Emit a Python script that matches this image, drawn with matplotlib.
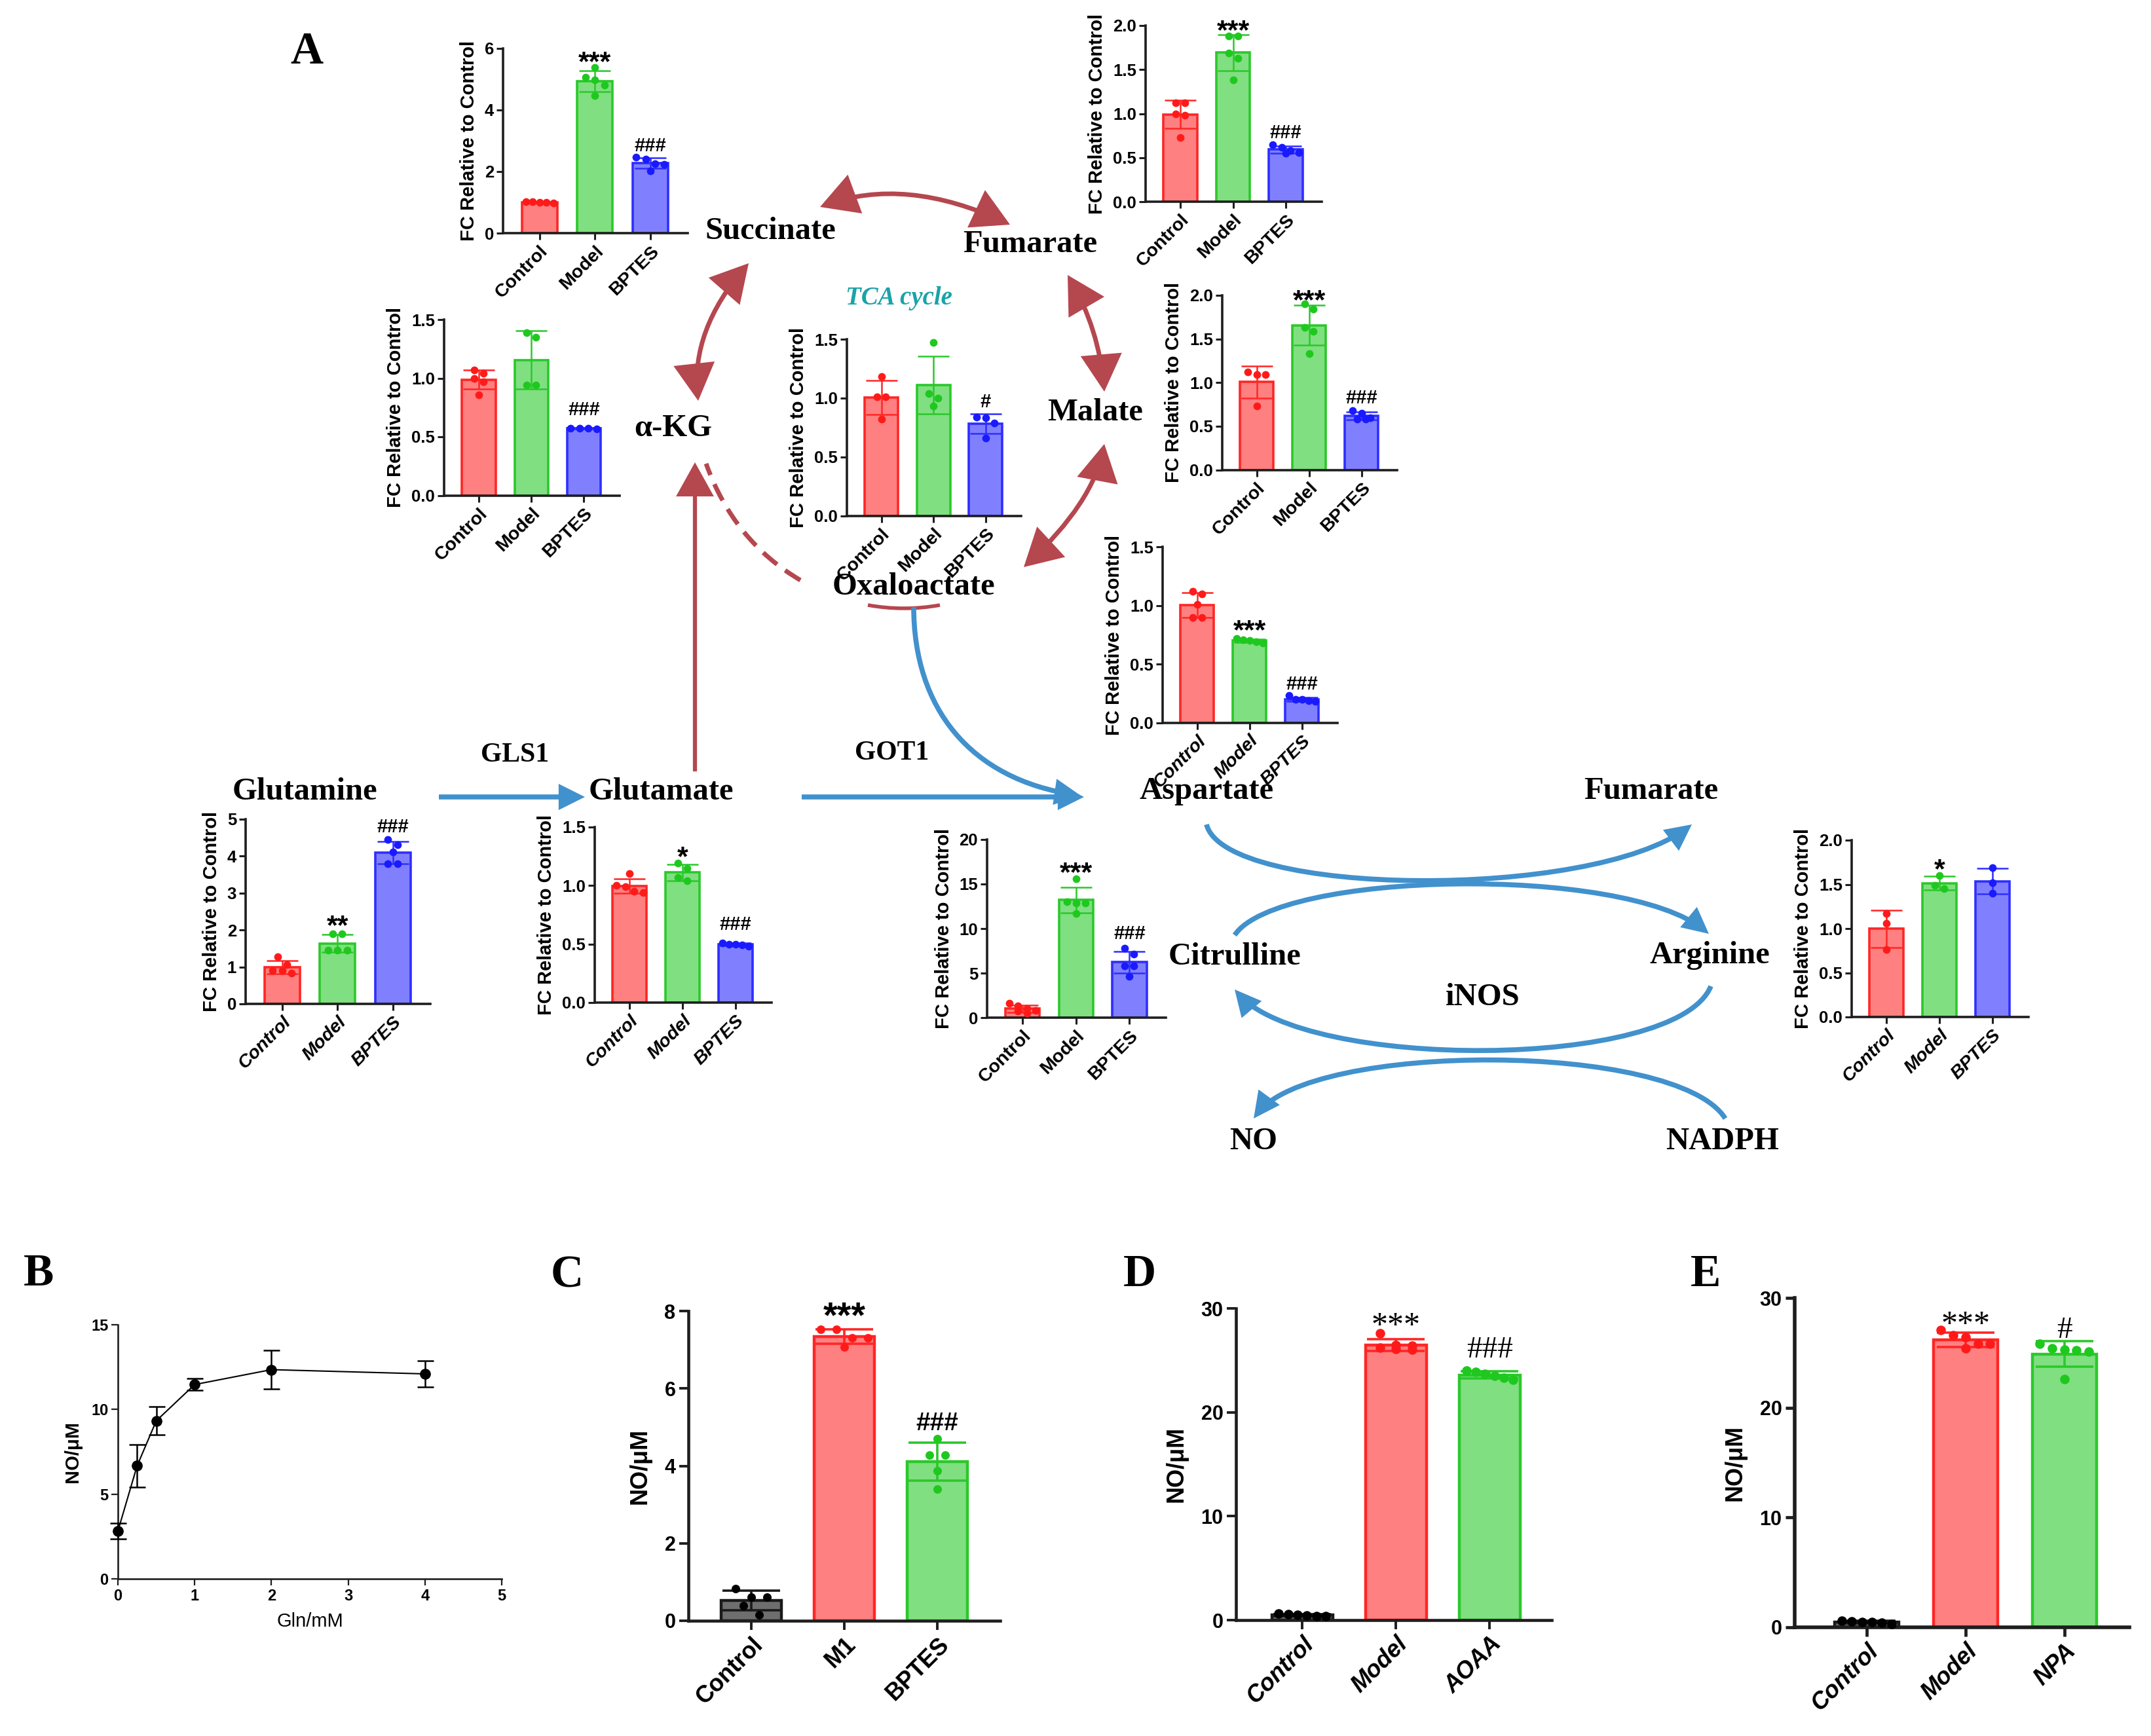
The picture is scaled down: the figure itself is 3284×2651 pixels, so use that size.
import numpy as np
import matplotlib
matplotlib.use("Agg")
import matplotlib.pyplot as plt
from matplotlib.patches import FancyArrowPatch
from matplotlib.path import Path
from matplotlib.ticker import FuncFormatter

W, H = 3284, 2651
SANS = ["Liberation Sans", "DejaVu Sans"]
NARROW = ["Liberation Sans Narrow", "Liberation Sans", "DejaVu Sans"]
SERIF = ["Liberation Serif", "DejaVu Serif"]
plt.rcParams["font.family"] = SANS

# ---- panel A insets: fold change relative to control (points per group) ----
GROUPS = ["Control", "Model", "BPTES"]
succinate = [[1.02, 1.0, 0.98, 1.01, 0.99],
             [5.06, 5.37, 4.96, 4.80, 4.45],
             [2.41, 2.46, 2.26, 2.01, 2.23]]
akg = [[1.07, 1.04, 1.0, 0.97, 0.86],
       [1.39, 1.35, 0.94, 0.94],
       [0.575, 0.57, 0.565, 0.57]]
fumarate = [[1.12, 1.12, 1.0, 0.98, 0.73],
            [1.88, 1.88, 1.69, 1.63, 1.38],
            [0.65, 0.62, 0.58, 0.56, 0.55]]
oxaloacetate = [[1.18, 1.01, 1.01, 0.82],
                [1.47, 1.04, 1.0, 0.93],
                [0.84, 0.83, 0.79, 0.66]]
malate = [[1.09, 1.12, 1.09, 0.73],
          [1.90, 1.84, 1.63, 1.59, 1.33],
          [0.68, 0.65, 0.60, 0.58, 0.58]]
aspartate = [[1.12, 1.10, 1.01, 0.90, 0.90],
             [0.72, 0.71, 0.70, 0.68, 0.69],
             [0.23, 0.20, 0.20, 0.19, 0.18]]
glutamine = [[1.07, 1.27, 0.91, 0.91, 0.83],
             [1.90, 1.90, 1.46, 1.46, 1.46],
             [4.45, 4.31, 4.11, 3.80, 3.80]]
glutamate = [[1.10, 1.0, 0.99, 0.95, 0.94],
             [1.19, 1.15, 1.07, 1.04],
             [0.51, 0.50, 0.49, 0.48, 0.50]]
citrulline = [[1.6, 1.35, 1.0, 0.8, 0.7, 0.55],
              [15.6, 13.0, 12.85, 12.85, 11.7],
              [7.77, 7.11, 5.8, 5.8, 4.66]]
arginine = [[1.17, 1.06, 0.76],
            [1.60, 1.45, 1.49],
            [1.69, 1.52, 1.40]]

# significance marks: (group index, text, y of glyph centre)
succinate_marks = [(1, "***", 5.8), (2, "###", 2.87)]
akg_marks = [(2, "###", 0.74)]
fumarate_marks = [(1, "***", 2.03), (2, "###", 0.80)]
oxaloacetate_marks = [(2, "#", 0.98)]
malate_marks = [(1, "***", 2.03), (2, "###", 0.84)]
aspartate_marks = [(1, "***", 0.85), (2, "###", 0.34)]
glutamine_marks = [(1, "**", 2.31), (2, "###", 4.83)]
glutamate_marks = [(1, "*", 1.31), (2, "###", 0.68)]
citrulline_marks = [(1, "***", 17.1), (2, "###", 9.57)]
arginine_marks = [(1, "*", 1.75)]

# ---- panel B ----
gln_mM = [0, 0.25, 0.5, 1, 2, 4]
no_mean = [2.82, 6.67, 9.33, 11.47, 12.35, 12.10]
no_sd = [0.45, 1.26, 0.83, 0.35, 1.15, 0.79]

# ---- panels C-E: NO (uM) ----
c_groups = ["Control", "M1", "BPTES"]
c_vals = [[0.61, 0.61, 0.83, 0.39, 0.16],
          [7.52, 7.52, 7.30, 7.30, 7.07],
          [4.70, 4.28, 4.28, 3.87, 3.40]]
c_marks = [(1, "***", 8.1), (2, "###", 5.15)]

d_groups = ["Control", "Model", "AOAA"]
d_vals = [[0.55, 0.35, 0.6, 0.4, 0.5, 0.45],
          [26.2, 26.5, 26.0, 27.6, 26.4, 26.1],
          [23.5, 23.9, 24.0, 23.1, 23.7, 23.3]]
d_marks = [(1, "***", 29.2), (2, "###", 26.3)]

e_groups = ["Control", "Model", "NPA"]
e_vals = [[0.5, 0.3, 0.6, 0.45, 0.55, 0.4],
          [26.4, 25.4, 26.6, 25.8, 25.8, 27.1],
          [25.2, 25.3, 25.1, 25.4, 25.8, 22.6]]
e_marks = [(1, "***", 28.4), (2, "#", 27.35)]

# colours: (face, edge, dots)
RED = ("#FF8080", "#FF2626", "#FF1A1A")
GREEN = ("#80DF80", "#2BC82B", "#1FC81F")
BLUE = ("#8080FF", "#2E2EFF", "#1A1AFF")
GREY = ("#6E6E6E", "#1A1A1A", "#000000")
ARROW_RED = "#B5474F"
ARROW_BLUE = "#4191CD"
AXIS = "#1E1E1E"

fig = plt.figure(figsize=(W / 100, H / 100), dpi=100)


def box(l, r, t, b):
    return [l / W, 1 - b / H, (r - l) / W, (b - t) / H]


def spread(vals, ymax, step=0.17):
    # simple deterministic beeswarm: close values are spread sideways
    vals = np.asarray(vals, float)
    offs = np.zeros(len(vals))
    groups = []
    for i in np.argsort(-vals):
        if groups and abs(vals[groups[-1][0]] - vals[i]) < ymax * 0.045:
            groups[-1].append(i)
        else:
            groups.append([i])
    for g in groups:
        k = len(g)
        st = min(step, 0.5 / (k - 1)) if k > 1 else 0
        for j, i in enumerate(g):
            offs[i] = (j - (k - 1) / 2) * st
    return offs


def mark(ax, x, y, txt, fs, family=SANS, weight="bold"):
    off = (0.55 if "*" in txt else 0.35) * fs
    ax.annotate(txt, (x, y), xytext=(0, -off), textcoords="offset points",
                ha="center", va="baseline", fontsize=fs, fontweight=weight,
                family=family, annotation_clip=False, zorder=6)


def style_axes(ax, lw, tlen):
    ax.set_facecolor("none")
    for s in ("top", "right"):
        ax.spines[s].set_visible(False)
    for s in ("left", "bottom"):
        ax.spines[s].set_linewidth(lw)
        ax.spines[s].set_color(AXIS)
    ax.tick_params(direction="out", length=tlen, width=lw * 0.85, color=AXIS)


def bars(ax, data, colors, width, lw, capsize, elw, ms):
    ymax = ax.get_ylim()[1]
    for i, (vals, (fc, ec, dc)) in enumerate(zip(data, colors)):
        m = np.mean(vals)
        sd = np.std(vals, ddof=1)
        ax.bar(i, m, width=width, color=fc, edgecolor=ec, linewidth=lw, zorder=2)
        ax.errorbar(i, m, yerr=sd, fmt="none", ecolor=ec, elinewidth=elw,
                    capsize=capsize, capthick=elw, zorder=3)
        ax.scatter(i + spread(vals, ymax), vals, s=ms, color=dc, zorder=4,
                   clip_on=False, linewidths=0)


def inset(rect, data, ymax, step, decimals, marks, italic=False):
    ax = fig.add_axes(box(*rect))
    ax.set_zorder(2)
    ax.set_xlim(-0.66, 2.68)
    ax.set_ylim(0, ymax)
    style_axes(ax, 2.6, 7)
    bars(ax, data, (RED, GREEN, BLUE), 0.64, 2.6, 17, 1.8, 72)
    ax.set_yticks(np.arange(0, ymax + 1e-9, step))
    ax.yaxis.set_major_formatter(FuncFormatter(lambda v, _: f"{v:.{decimals}f}"))
    ax.tick_params(axis="y", labelsize=18.5, pad=3)
    for t in ax.get_yticklabels():
        t.set_fontweight("bold")
    ax.set_xticks(range(3))
    ax.set_xticklabels(GROUPS, rotation=45, ha="right", va="top",
                       rotation_mode="anchor", fontsize=20.5, fontweight="bold",
                       style="italic" if italic else "normal")
    ax.set_ylabel("FC Relative to Control", fontsize=21, fontweight="bold", labelpad=7)
    for i, txt, y in marks:
        mark(ax, i, y, txt, 31 if "*" in txt else 21)
    return ax


# ---------------- pathway overlay ----------------
ov = fig.add_axes([0, 0, 1, 1])
ov.set_xlim(0, W)
ov.set_ylim(H, 0)
ov.axis("off")
ov.set_zorder(1)


def curve(verts, color, lw, style, ms, ls="-"):
    codes = {2: [Path.MOVETO, Path.LINETO],
             3: [Path.MOVETO, Path.CURVE3, Path.CURVE3],
             4: [Path.MOVETO, Path.CURVE4, Path.CURVE4, Path.CURVE4]}[len(verts)]
    p = FancyArrowPatch(path=Path(verts, codes), arrowstyle=style, mutation_scale=ms,
                        color=color, lw=lw, linestyle=ls, joinstyle="miter",
                        capstyle="butt")
    ov.add_patch(p)


red2 = "<|-|>,head_length=0.9,head_width=0.5"
red1 = "-|>,head_length=0.9,head_width=0.5"
blue1 = "-|>,head_length=1.0,head_width=0.5"

# TCA cycle (red)
curve([(1252, 316), (1382, 268), (1542, 343)], ARROW_RED, 5, red2, 37)
curve([(1143, 402), (1054, 504), (1066, 612)], ARROW_RED, 5, red2, 37)
curve([(1630, 420), (1678, 502), (1686, 598)], ARROW_RED, 5, red2, 37)
curve([(1686, 678), (1669, 768), (1563, 866)], ARROW_RED, 5, red2, 37)
curve([(1061, 1178), (1061, 706)], ARROW_RED, 4.5, red1, 34)
curve([(1222, 886), (1120, 826), (1078, 708)], ARROW_RED, 5, "-", 30, ls=(0, (4, 2.2)))
curve([(1325, 924), (1380, 934), (1435, 924)], ARROW_RED, 4, "-", 10)

# glutamine metabolism (blue)
curve([(670, 1217), (893, 1217)], ARROW_BLUE, 5.5, blue1, 20)
curve([(1224, 1217), (1655, 1217)], ARROW_BLUE, 5.5, blue1, 20)
curve([(1395, 927), (1395, 1080), (1480, 1190), (1650, 1215)], ARROW_BLUE, 5.5, blue1, 20)

# urea cycle / iNOS (blue)
curve([(1842, 1259), (1870, 1370), (2430, 1375), (2583, 1259)], ARROW_BLUE, 5.5, blue1, 20)
curve([(1885, 1428), (1950, 1330), (2480, 1320), (2609, 1426)], ARROW_BLUE, 5.5, blue1, 20)
curve([(2612, 1506), (2560, 1635), (1990, 1635), (1885, 1511)], ARROW_BLUE, 5.5, blue1, 20)
curve([(2634, 1708), (2560, 1590), (2000, 1590), (1914, 1708)], ARROW_BLUE, 5.5, blue1, 20)

metabolites = [("Succinate", 1176, 353), ("Fumarate", 1573, 373), ("α-KG", 1028, 654),
               ("Malate", 1672, 630), ("Oxaloactate", 1395, 896), ("Glutamine", 465, 1209),
               ("Glutamate", 1009, 1209), ("Aspartate", 1842, 1208), ("Fumarate", 2521, 1208),
               ("Citrulline", 1885, 1461), ("Arginine", 2610, 1459), ("iNOS", 2264, 1523),
               ("NO", 1914, 1743), ("NADPH", 2630, 1743)]
for name, x, y in metabolites:
    ov.text(x, y, name, ha="center", va="center", fontsize=35, fontweight="bold", family=SERIF)
for name, x, y in [("GLS1", 786, 1153), ("GOT1", 1362, 1150)]:
    ov.text(x, y, name, ha="center", va="center", fontsize=30, fontweight="bold", family=SERIF)
ov.text(1372, 456, "TCA cycle", ha="center", va="center", fontsize=28, fontweight="bold",
        style="italic", color="#1AA3A8", family=SERIF)
for letter, x, y in [("A", 468, 80), ("B", 59, 1946), ("C", 866, 1948), ("D", 1740, 1947),
                     ("E", 2604, 1947)]:
    ov.text(x, y, letter, ha="center", va="center", fontsize=50, fontweight="bold", family=SERIF)

# ---------------- panel A insets ----------------
inset((768, 1050, 73.5, 356), succinate, 6, 2, 0, succinate_marks)
inset((678, 946, 488, 756.5), akg, 1.5, 0.5, 1, akg_marks)
inset((1749, 2018, 39, 308), fumarate, 2, 0.5, 1, fumarate_marks)
inset((1293, 1559, 518, 787.5), oxaloacetate, 1.5, 0.5, 1, oxaloacetate_marks)
inset((1866, 2133, 451, 717.5), malate, 2, 0.5, 1, malate_marks)
inset((1775, 2042, 835.5, 1103.6), aspartate, 1.5, 0.5, 1, aspartate_marks, italic=True)
inset((375, 657, 1251, 1533), glutamine, 5, 1, 0, glutamine_marks, italic=True)
inset((908, 1178, 1263, 1531), glutamate, 1.5, 0.5, 1, glutamate_marks, italic=True)
inset((1507, 1780, 1282, 1554), citrulline, 20, 5, 0, citrulline_marks)
inset((2827, 3097, 1283, 1553), arginine, 2, 0.5, 1, arginine_marks, italic=True)

# ---------------- panel B ----------------
axb = fig.add_axes(box(180, 766, 2023, 2411))
axb.set_zorder(2)
style_axes(axb, 1.9, 7)
axb.set_xlim(0, 5)
axb.set_ylim(0, 15)
axb.errorbar(gln_mM, no_mean, yerr=no_sd, fmt="-o", color="black", ms=11, lw=1.5,
             elinewidth=1.8, capsize=9, capthick=1.8, clip_on=False, zorder=3)
axb.set_xticks(range(6))
axb.set_yticks([0, 5, 10, 15])
for t in axb.get_xticklabels() + axb.get_yticklabels():
    t.set_fontsize(17)
    t.set_family(NARROW)
    t.set_fontweight("bold")
axb.set_xlabel("Gln/mM", fontsize=21, family=SANS, labelpad=10)
axb.set_ylabel("NO/μM", fontsize=21, fontweight="bold", labelpad=10)


# ---------------- panels C-E ----------------
def no_panel(rect, xlim, data, colors, groups, marks, spine_lw, italic, star_family,
             star_sizes, star_weight, ms):
    ax = fig.add_axes(box(*rect))
    ax.set_zorder(2)
    ax.set_xlim(*xlim)
    ymax = 8 if data is c_vals else 30
    ax.set_ylim(0, ymax)
    style_axes(ax, spine_lw, 10)
    bars(ax, data, colors, 0.65, 3.2, 32, 2.6, ms)
    ax.set_yticks(np.arange(0, ymax + 1, 2 if ymax == 8 else 10))
    ax.tick_params(axis="y", labelsize=22, pad=4)
    for t in ax.get_yticklabels():
        t.set_fontweight("bold")
        if italic:
            t.set_family(NARROW)
    ax.set_xticks(range(3))
    ax.set_xticklabels(groups, rotation=45, ha="right", va="top", rotation_mode="anchor",
                       fontsize=26, fontweight="bold",
                       style="italic" if italic else "normal")
    ax.set_ylabel("NO/μM", fontsize=26, fontweight="bold", labelpad=14)
    for i, txt, y in marks:
        mark(ax, i, y, txt, star_sizes[0] if "*" in txt else star_sizes[1],
             family=star_family, weight=star_weight)
    return ax


no_panel((1051, 1527, 2002, 2475), (-0.676, 2.676), c_vals, (GREY, RED, GREEN), c_groups,
         c_marks, 3.3, False, SANS, (40, 28), "bold", 88)
no_panel((1887, 2369, 1998, 2474), (-0.706, 2.66), d_vals, (GREY, RED, GREEN), d_groups,
         d_marks, 3.3, True, SERIF, (36, 34), "normal", 110)
no_panel((2740, 3251, 1982, 2485), (-0.73, 2.66), e_vals, (GREY, RED, GREEN), e_groups,
         e_marks, 4.0, True, SERIF, (36, 34), "normal", 110)

fig.savefig("out.png", dpi=100)
plt.close(fig)
